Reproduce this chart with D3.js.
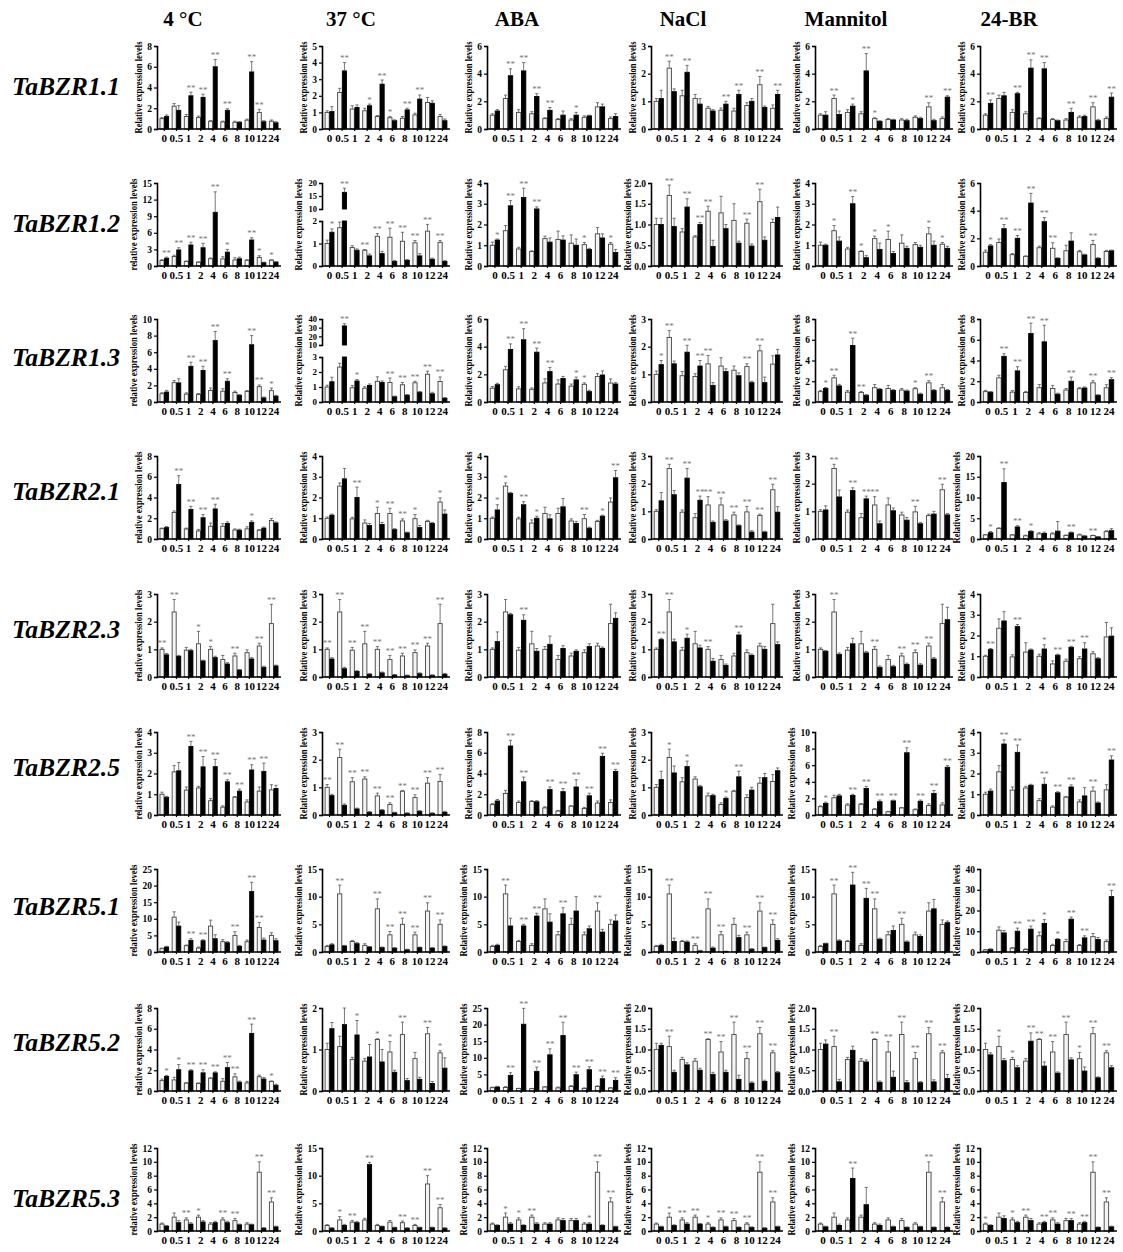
<!DOCTYPE html>
<html>
<head>
<meta charset="utf-8">
<script src="https://cdn.jsdelivr.net/npm/d3@7"></script>
<style>
  body { margin: 0; background: #fff; }
  svg { display: block; }
</style>
</head>
<body>
<svg id="fig" width="1123" height="1252"></svg>
<script>
// time points (h) and treatments
const times = ["0", "0.5", "1", "2", "4", "6", "8", "10", "12", "24"];
const treatments = ["4 °C", "37 °C", "ABA", "NaCl", "Mannitol", "24-BR"];
const geneNames = ["TaBZR1.1", "TaBZR1.2", "TaBZR1.3", "TaBZR2.1", "TaBZR2.3", "TaBZR2.5", "TaBZR5.1", "TaBZR5.2", "TaBZR5.3"];
const yTitles = ["Relative expression levels", "relative expression levels"];

// ---- TaBZR1.1
const bzr11Ctrl = [1.0, 2.2, 1.2, 1.1, 0.75, 0.68, 0.65, 0.85, 1.6, 0.75];
const bzr11CtrlErr = [0.1, 0.25, 0.2, 0.15, 0.06, 0.08, 0.1, 0.1, 0.3, 0.12];
const bzr11Val = [
  [1.2, 1.8, 3.2, 3.05, 6.0, 1.8, 0.65, 5.5, 0.7, 0.6],
  [1.05, 3.5, 1.3, 1.4, 2.7, 0.5, 1.15, 1.8, 1.55, 0.5],
  [1.3, 3.85, 4.2, 2.35, 1.35, 1.0, 1.0, 0.95, 1.6, 0.9],
  [1.1, 1.35, 2.05, 0.9, 0.65, 0.9, 1.25, 1.0, 0.78, 1.25],
  [1.0, 1.05, 1.65, 4.2, 0.55, 0.65, 0.6, 0.75, 0.6, 2.3],
  [1.85, 2.4, 2.55, 4.4, 4.35, 0.6, 1.2, 0.9, 0.6, 2.3]];
const bzr11Err = [
  [0.15, 0.45, 0.35, 0.3, 0.7, 0.15, 0.05, 1.0, 0.1, 0.1],
  [0.3, 0.5, 0.15, 0.1, 0.25, 0.05, 0.1, 0.25, 0.15, 0.1],
  [0.1, 0.5, 0.6, 0.2, 0.2, 0.3, 0.2, 0.05, 0.2, 0.2],
  [0.3, 0.1, 0.25, 0.2, 0.05, 0.1, 0.15, 0.1, 0.05, 0.15],
  [0.25, 0.25, 0.15, 1.25, 0.05, 0.05, 0.1, 0.1, 0.1, 0.1],
  [0.25, 0.25, 0.1, 0.6, 0.45, 0.05, 0.3, 0.1, 0.1, 0.3]];
const bzr11Sig = [
  [0, 0, 2, 2, 2, 2, 0, 2, 2, 0],
  [0, 2, 0, 1, 2, 1, 2, 2, 0, 0],
  [0, 2, 2, 2, 2, 0, 1, 0, 0, 0],
  [0, 2, 2, 0, 0, 2, 2, 0, 2, 2],
  [0, 2, 1, 2, 1, 0, 0, 0, 2, 2],
  [2, 0, 2, 2, 2, 0, 2, 0, 2, 2]];
const bzr11Max = [8, 5, 6, 3, 6, 6];
const bzr11Step = [2, 1, 2, 1, 2, 2];

// ---- TaBZR1.2
const bzr12Ctrl = [1.0, 1.7, 0.82, 0.7, 1.32, 1.28, 1.1, 1.03, 1.55, 1.05];
const bzr12CtrlErr = [0.15, 0.25, 0.08, 0.03, 0.12, 0.4, 0.4, 0.1, 0.3, 0.08];
const bzr12Val = [
  [1.4, 2.9, 3.8, 3.3, 9.7, 2.5, 1.3, 4.7, 0.6, 0.7],
  [1.5, 16.4, 0.7, 0.45, 0.55, 0.2, 0.25, 0.45, 0.3, 0.2],
  [1.25, 2.9, 3.3, 2.75, 1.15, 1.25, 1.0, 0.8, 1.35, 0.65],
  [1.0, 0.95, 1.42, 1.0, 0.47, 0.9, 0.55, 0.48, 0.62, 1.17],
  [1.0, 1.2, 3.0, 0.4, 0.8, 0.6, 0.85, 0.9, 1.0, 0.85],
  [1.45, 2.7, 2.0, 4.55, 3.2, 0.55, 1.8, 0.8, 0.55, 1.1]];
const bzr12Err = [
  [0.2, 0.4, 0.5, 0.8, 3.7, 0.5, 0.3, 0.4, 0.1, 0.1],
  [0.15, 1.6, 0.06, 0.08, 0.1, 0.05, 0.04, 0.1, 0.05, 0.05],
  [0.05, 0.25, 0.45, 0.1, 0.2, 0.2, 0.3, 0.05, 0.2, 0.15],
  [0.15, 0.2, 0.2, 0.05, 0.15, 0.1, 0.05, 0.05, 0.08, 0.25],
  [0.05, 0.2, 0.35, 0.1, 0.3, 0.1, 0.1, 0.1, 0.2, 0.1],
  [0.1, 0.3, 0.2, 0.7, 0.3, 0.05, 0.6, 0.05, 0.05, 0.05]];
const bzr12Sig = [
  [2, 2, 2, 2, 2, 1, 0, 2, 1, 1],
  [1, 2, 0, 2, 2, 2, 2, 2, 2, 2],
  [1, 2, 2, 2, 0, 0, 0, 1, 0, 1],
  [0, 2, 2, 2, 2, 0, 0, 2, 2, 0],
  [0, 1, 2, 1, 1, 1, 0, 0, 1, 1],
  [1, 2, 2, 2, 2, 2, 0, 0, 2, 0]];
const bzr12Max = [15, 20, 4, 2, 4, 6];
const bzr12Step = [3, 5, 1, 0.5, 1, 2];

// ---- TaBZR1.3
const bzr13Ctrl = [1.0, 2.33, 0.95, 0.92, 1.38, 1.3, 1.15, 1.28, 1.85, 1.37];
const bzr13CtrlErr = [0.12, 0.25, 0.15, 0.1, 0.3, 0.3, 0.15, 0.1, 0.2, 0.3];
const bzr13Val = [
  [1.2, 2.3, 4.3, 3.8, 7.4, 2.5, 0.8, 6.9, 0.5, 0.7],
  [1.35, 32, 1.4, 1.1, 1.3, 0.35, 0.45, 0.65, 0.55, 0.25],
  [1.25, 3.8, 4.5, 3.6, 2.2, 1.7, 1.6, 0.75, 1.95, 1.3],
  [1.35, 1.38, 1.8, 1.3, 0.6, 1.1, 0.95, 0.7, 0.7, 1.7],
  [1.3, 1.55, 5.45, 0.65, 1.2, 1.1, 1.05, 0.75, 1.1, 1.1],
  [0.95, 4.4, 3.0, 6.6, 5.8, 0.75, 2.0, 1.35, 0.65, 2.15]];
const bzr13Err = [
  [0.2, 0.5, 0.5, 0.5, 1.1, 0.3, 0.1, 1.1, 0.1, 0.1],
  [0.3, 2.5, 0.1, 0.1, 0.1, 0.05, 0.05, 0.05, 0.1, 0.05],
  [0.1, 0.4, 0.8, 0.3, 0.3, 0.15, 0.2, 0.1, 0.3, 0.1],
  [0.15, 0.1, 0.25, 0.2, 0.1, 0.1, 0.1, 0.05, 0.2, 0.2],
  [0.1, 0.15, 0.7, 0.05, 0.1, 0.1, 0.1, 0.1, 0.1, 0.1],
  [0.05, 0.25, 0.4, 1.0, 1.6, 0.1, 0.4, 0.1, 0.05, 0.2]];
const bzr13Sig = [
  [0, 0, 2, 2, 2, 2, 0, 2, 2, 1],
  [0, 2, 1, 0, 0, 2, 2, 2, 2, 2],
  [0, 2, 2, 2, 2, 0, 1, 1, 0, 0],
  [1, 2, 2, 2, 2, 0, 0, 2, 2, 0],
  [1, 2, 2, 2, 0, 0, 0, 1, 2, 0],
  [0, 2, 2, 2, 2, 0, 2, 0, 2, 2]];
const bzr13Max = [10, 40, 6, 3, 8, 8];
const bzr13Step = [2, 10, 2, 1, 2, 2];

// ---- TaBZR2.1
const bzr21Ctrl = [1.0, 2.55, 0.97, 0.77, 1.23, 1.23, 0.87, 0.98, 0.85, 1.78];
const bzr21CtrlErr = [0.06, 0.15, 0.08, 0.15, 0.3, 0.25, 0.1, 0.2, 0.05, 0.2];
const bzr21Val = [
  [1.1, 5.25, 2.85, 2.05, 2.9, 1.5, 0.85, 1.6, 1.05, 1.55],
  [1.15, 2.9, 2.0, 0.65, 0.7, 0.45, 0.3, 0.55, 0.75, 1.2],
  [1.4, 2.2, 1.65, 1.0, 0.97, 1.55, 0.75, 0.52, 1.1, 2.95],
  [1.38, 1.6, 2.2, 1.4, 0.6, 0.65, 0.48, 0.25, 0.25, 0.97],
  [1.05, 1.52, 1.75, 1.45, 0.55, 1.02, 0.68, 0.55, 0.9, 0.87],
  [1.5, 13.6, 2.9, 1.8, 1.35, 1.9, 1.5, 0.7, 0.5, 2.0]];
const bzr21Err = [
  [0.1, 0.85, 0.3, 0.3, 0.45, 0.15, 0.1, 0.15, 0.1, 0.1],
  [0.05, 0.5, 0.5, 0.1, 0.1, 0.05, 0.03, 0.1, 0.05, 0.2],
  [0.25, 0.05, 0.15, 0.1, 0.2, 0.4, 0.1, 0.05, 0.05, 0.35],
  [0.3, 0.15, 0.35, 0.15, 0.05, 0.05, 0.03, 0.05, 0.03, 0.2],
  [0.15, 0.25, 0.1, 0.1, 0.1, 0.1, 0.1, 0.05, 0.1, 0.05],
  [0.3, 3.3, 0.3, 0.2, 0.3, 2.3, 0.2, 0.1, 0.05, 0.5]];
const bzr21Sig = [
  [0, 2, 2, 2, 2, 0, 0, 1, 0, 0],
  [0, 0, 2, 0, 1, 2, 2, 1, 0, 1],
  [1, 1, 2, 1, 0, 0, 0, 2, 1, 2],
  [0, 2, 2, 2, 2, 2, 2, 2, 2, 2],
  [0, 2, 2, 2, 2, 0, 0, 2, 0, 2],
  [1, 2, 2, 1, 0, 0, 2, 0, 2, 0]];
const bzr21Max = [8, 4, 4, 3, 3, 20];
const bzr21Step = [2, 1, 1, 1, 1, 5];

// ---- TaBZR2.3
const bzr23Ctrl = [1.0, 2.35, 0.97, 1.2, 1.0, 0.63, 0.76, 0.88, 1.12, 1.93];
const bzr23CtrlErr = [0.05, 0.45, 0.1, 0.45, 0.1, 0.15, 0.1, 0.1, 0.1, 0.7];
const bzr23Val = [
  [0.8, 0.75, 0.95, 0.58, 0.7, 0.47, 0.25, 0.65, 0.35, 0.4],
  [0.65, 0.3, 0.2, 0.1, 0.15, 0.07, 0.05, 0.12, 0.06, 0.1],
  [1.28, 2.25, 2.05, 0.93, 1.18, 1.03, 0.93, 1.1, 1.03, 2.12],
  [1.35, 1.27, 1.4, 1.05, 0.57, 0.42, 1.52, 0.78, 1.0, 1.17],
  [0.93, 0.82, 1.2, 0.87, 0.35, 0.37, 0.45, 0.43, 0.65, 2.07],
  [1.32, 2.7, 2.43, 1.3, 1.35, 1.05, 1.43, 1.35, 0.88, 1.97]];
const bzr23Err = [
  [0.05, 0.03, 0.05, 0.03, 0.05, 0.05, 0.02, 0.05, 0.04, 0.03],
  [0.05, 0.05, 0.03, 0.02, 0.03, 0.02, 0.02, 0.03, 0.02, 0.03],
  [0.35, 0.05, 0.2, 0.1, 0.3, 0.1, 0.05, 0.1, 0.05, 0.2],
  [0.05, 0.1, 0.15, 0.1, 0.1, 0.05, 0.1, 0.05, 0.1, 0.1],
  [0.03, 0.05, 0.2, 0.05, 0.05, 0.05, 0.05, 0.05, 0.05, 0.45],
  [0.05, 0.45, 0.1, 0.05, 0.2, 0.05, 0.05, 0.3, 0.05, 0.4]];
const bzr23Sig = [
  [2, 2, 0, 1, 1, 0, 2, 0, 2, 2],
  [2, 2, 2, 2, 2, 2, 2, 2, 2, 2],
  [0, 0, 2, 0, 0, 0, 0, 0, 0, 0],
  [2, 2, 1, 0, 2, 0, 2, 0, 0, 0],
  [0, 2, 0, 0, 2, 0, 2, 2, 2, 0],
  [2, 0, 2, 0, 1, 2, 2, 2, 0, 0]];
const bzr23Max = [3, 3, 3, 3, 3, 4];
const bzr23Step = [1, 1, 1, 1, 1, 1];

// ---- TaBZR2.5
const bzr25Ctrl = [1.0, 2.08, 1.2, 1.3, 0.69, 0.38, 0.86, 0.63, 1.15, 1.21];
const bzr25CtrlErr = [0.1, 0.3, 0.15, 0.08, 0.1, 0.06, 0.03, 0.1, 0.2, 0.25];
const bzr25Val = [
  [0.85, 2.13, 3.3, 2.32, 2.33, 1.6, 1.15, 2.17, 2.1, 1.28],
  [0.7, 0.35, 0.22, 0.1, 0.17, 0.08, 0.06, 0.13, 0.06, 0.1],
  [1.35, 6.65, 3.2, 1.28, 2.45, 2.25, 2.7, 1.85, 5.65, 4.2],
  [1.28, 1.52, 1.75, 1.02, 0.7, 0.6, 1.38, 0.9, 1.35, 1.6],
  [1.4, 2.3, 2.35, 3.2, 1.6, 1.7, 7.5, 1.65, 2.6, 5.75],
  [1.15, 3.42, 3.02, 1.43, 1.48, 1.07, 1.35, 0.92, 0.58, 2.65]];
const bzr25Err = [
  [0.05, 0.4, 0.25, 0.5, 0.35, 0.1, 0.1, 0.25, 0.4, 0.15],
  [0.05, 0.05, 0.03, 0.02, 0.03, 0.02, 0.02, 0.03, 0.02, 0.03],
  [0.15, 0.55, 0.45, 0.1, 0.25, 0.3, 0.7, 0.25, 0.3, 0.2],
  [0.3, 0.25, 0.2, 0.05, 0.05, 0.05, 0.2, 0.1, 0.15, 0.1],
  [0.15, 0.2, 0.15, 0.25, 0.2, 0.1, 0.6, 0.15, 0.35, 0.2],
  [0.1, 0.2, 0.35, 0.05, 0.3, 0.05, 0.1, 0.4, 0.05, 0.2]];
const bzr25Sig = [
  [0, 0, 2, 2, 2, 2, 2, 2, 2, 0],
  [2, 2, 2, 2, 2, 2, 2, 2, 2, 2],
  [0, 2, 2, 0, 2, 2, 2, 2, 2, 2],
  [0, 1, 1, 0, 0, 1, 2, 0, 0, 0],
  [1, 0, 2, 2, 2, 2, 2, 2, 2, 2],
  [0, 2, 2, 0, 2, 2, 2, 0, 2, 2]];
const bzr25Max = [4, 3, 8, 3, 10, 4];
const bzr25Step = [1, 1, 2, 1, 2, 1];

// ---- TaBZR5.1
const bzr51Ctrl = [1.0, 10.5, 1.9, 1.2, 7.8, 3.1, 5.0, 3.1, 7.4, 5.0];
const bzr51CtrlErr = [0.2, 1.6, 0.2, 0.3, 1.8, 0.6, 1.1, 0.5, 1.5, 0.8];
const bzr51Val = [
  [1.5, 7.8, 3.5, 3.4, 4.0, 2.8, 1.7, 18.2, 3.6, 3.4],
  [1.3, 1.1, 1.5, 0.9, 0.8, 0.7, 0.4, 0.8, 0.7, 1.0],
  [1.2, 4.7, 4.7, 6.5, 5.4, 6.9, 7.4, 4.2, 3.6, 5.6],
  [1.2, 1.9, 1.8, 0.2, 0.7, 0.1, 2.6, 0.5, 0.8, 2.1],
  [1.5, 2.0, 12.1, 9.7, 2.3, 3.9, 1.8, 2.8, 7.8, 5.3],
  [1.3, 9.2, 10.0, 11.0, 13.8, 6.0, 15.8, 6.8, 6.0, 26.7]];
const bzr51Err = [
  [0.2, 1.2, 0.5, 0.3, 1.2, 0.3, 0.3, 2.8, 0.6, 0.6],
  [0.2, 0.1, 0.2, 0.1, 0.1, 0.1, 0.1, 0.1, 0.1, 0.1],
  [0.2, 1.4, 0.3, 0.5, 1.5, 1.1, 2.6, 0.5, 0.5, 1.1],
  [0.2, 0.6, 0.2, 0.1, 0.2, 0.05, 0.4, 0.1, 0.1, 0.3],
  [0.1, 0.2, 2.3, 1.8, 0.2, 0.8, 0.2, 0.3, 1.7, 0.3],
  [0.2, 1.2, 1.5, 1.5, 1.8, 0.5, 1.0, 1.0, 1.0, 3.0]];
const bzr51Sig = [
  [0, 0, 2, 2, 0, 0, 2, 2, 2, 0],
  [0, 2, 0, 0, 2, 2, 2, 2, 2, 2],
  [0, 2, 2, 2, 0, 2, 0, 0, 2, 0],
  [0, 2, 0, 2, 2, 2, 0, 2, 2, 2],
  [0, 2, 2, 2, 2, 0, 2, 0, 0, 0],
  [0, 0, 2, 2, 1, 1, 2, 2, 0, 2]];
const bzr51Max = [25, 15, 15, 15, 15, 40];
const bzr51Step = [5, 5, 5, 5, 5, 10];

// ---- TaBZR5.2
const bzr52Ctrl = [1.0, 1.07, 0.76, 0.72, 1.24, 0.94, 1.36, 0.78, 1.38, 0.92];
const bzr52CtrlErr = [0.15, 0.25, 0.05, 0.06, 0.02, 0.25, 0.3, 0.15, 0.15, 0.05];
const bzr52Val = [
  [1.4, 2.05, 1.95, 1.75, 1.75, 2.25, 0.85, 5.55, 1.15, 0.55],
  [1.5, 1.6, 1.35, 0.82, 0.7, 0.45, 0.25, 0.28, 0.18, 0.55],
  [1.2, 4.7, 20.1, 5.9, 10.9, 16.7, 4.9, 6.4, 3.7, 3.2],
  [1.1, 0.45, 0.63, 0.5, 0.4, 0.45, 0.28, 0.19, 0.23, 0.44],
  [1.13, 0.22, 0.98, 0.7, 0.21, 0.33, 0.2, 0.2, 0.22, 0.3],
  [0.87, 0.73, 0.56, 1.2, 0.6, 0.43, 0.75, 0.48, 0.32, 0.56]];
const bzr52Err = [
  [0.1, 0.5, 0.1, 0.3, 0.1, 0.5, 0.1, 0.9, 0.15, 0.1],
  [0.15, 0.4, 0.35, 0.3, 0.3, 0.05, 0.05, 0.05, 0.05, 0.25],
  [0.2, 0.8, 4.8, 1.3, 1.8, 4.0, 0.8, 0.9, 0.8, 0.8],
  [0.05, 0.05, 0.05, 0.05, 0.05, 0.05, 0.1, 0.03, 0.03, 0.03],
  [0.1, 0.06, 0.1, 0.05, 0.03, 0.15, 0.05, 0.03, 0.05, 0.1],
  [0.05, 0.05, 0.05, 0.2, 0.1, 0.03, 0.05, 0.1, 0.02, 0.05]];
const bzr52Sig = [
  [1, 1, 2, 2, 2, 2, 2, 2, 0, 1],
  [0, 0, 1, 0, 1, 1, 2, 0, 2, 1],
  [0, 2, 2, 2, 2, 2, 2, 2, 2, 2],
  [0, 2, 0, 0, 2, 2, 2, 2, 2, 2],
  [0, 2, 0, 0, 2, 2, 2, 2, 2, 2],
  [0, 1, 1, 2, 2, 2, 2, 1, 2, 2]];
const bzr52Max = [8, 2, 25, 2, 2, 2];
const bzr52Step = [2, 1, 5, 0.5, 0.5, 0.5];

// ---- TaBZR5.3
const bzr53Ctrl = [1.0, 2.0, 1.6, 2.0, 1.0, 1.6, 1.5, 1.0, 8.5, 4.2];
const bzr53CtrlErr = [0.15, 0.6, 0.3, 0.3, 0.2, 0.3, 0.3, 0.2, 1.5, 0.6];
const bzr53Val = [
  [0.7, 1.2, 1.0, 1.3, 1.2, 1.2, 0.9, 0.9, 0.4, 0.6],
  [0.5, 1.0, 1.5, 12.0, 0.8, 0.6, 0.5, 0.6, 0.6, 0.5],
  [0.8, 1.0, 0.8, 1.0, 1.0, 1.5, 1.5, 1.0, 0.8, 0.6],
  [0.6, 0.8, 1.0, 1.0, 0.5, 0.6, 0.5, 0.5, 0.4, 0.6],
  [0.6, 0.8, 7.6, 3.8, 0.8, 0.6, 0.5, 0.6, 0.5, 0.5],
  [0.8, 1.8, 1.2, 1.5, 1.2, 1.0, 1.5, 1.2, 0.5, 0.6]];
const bzr53Err = [
  [0.1, 0.3, 0.2, 0.2, 0.2, 0.2, 0.1, 0.1, 0.1, 0.1],
  [0.1, 0.2, 0.2, 0.4, 0.1, 0.1, 0.1, 0.1, 0.1, 0.1],
  [0.1, 0.2, 0.1, 0.2, 0.2, 0.3, 0.3, 0.2, 0.1, 0.1],
  [0.1, 0.1, 0.2, 0.1, 0.1, 0.1, 0.1, 0.1, 0.1, 0.1],
  [0.1, 0.2, 1.5, 2.5, 0.2, 0.1, 0.1, 0.1, 0.1, 0.1],
  [0.1, 0.4, 0.2, 0.3, 0.2, 0.2, 0.3, 0.2, 0.1, 0.1]];
const bzr53Sig = [
  [0, 0, 2, 1, 0, 2, 2, 0, 2, 2],
  [0, 1, 2, 2, 0, 0, 2, 2, 2, 2],
  [0, 1, 1, 2, 0, 0, 0, 1, 2, 2],
  [0, 1, 2, 2, 1, 2, 2, 2, 2, 2],
  [0, 0, 2, 0, 0, 0, 0, 0, 2, 2],
  [1, 0, 1, 2, 2, 2, 2, 2, 2, 2]];
const bzr53Max = [12, 15, 12, 12, 12, 12];
const bzr53Step = [2, 5, 2, 2, 2, 2];

// broken y axes (37 °C column): lower part and upper part
const brokenAxes = {
  "1-1": { low: 2, lowStep: 1, high: [10, 20], highStep: 5 },
  "2-1": { low: 3, lowStep: 1, high: [10, 40], highStep: 10 }
};

const genes = [
  [bzr11Ctrl, bzr11CtrlErr, bzr11Val, bzr11Err, bzr11Sig, bzr11Max, bzr11Step],
  [bzr12Ctrl, bzr12CtrlErr, bzr12Val, bzr12Err, bzr12Sig, bzr12Max, bzr12Step],
  [bzr13Ctrl, bzr13CtrlErr, bzr13Val, bzr13Err, bzr13Sig, bzr13Max, bzr13Step],
  [bzr21Ctrl, bzr21CtrlErr, bzr21Val, bzr21Err, bzr21Sig, bzr21Max, bzr21Step],
  [bzr23Ctrl, bzr23CtrlErr, bzr23Val, bzr23Err, bzr23Sig, bzr23Max, bzr23Step],
  [bzr25Ctrl, bzr25CtrlErr, bzr25Val, bzr25Err, bzr25Sig, bzr25Max, bzr25Step],
  [bzr51Ctrl, bzr51CtrlErr, bzr51Val, bzr51Err, bzr51Sig, bzr51Max, bzr51Step],
  [bzr52Ctrl, bzr52CtrlErr, bzr52Val, bzr52Err, bzr52Sig, bzr52Max, bzr52Step],
  [bzr53Ctrl, bzr53CtrlErr, bzr53Val, bzr53Err, bzr53Sig, bzr53Max, bzr53Step]
].map((d, i) => ({
  name: geneNames[i], ctrl: d[0], ctrlErr: d[1], val: d[2], err: d[3], sig: d[4], max: d[5], step: d[6]
}));

// ---- layout
const serif = "'Liberation Serif', 'Times New Roman', serif";
const colX = [157, 322, 487, 651, 815, 980];
const colW = [124, 128, 134, 132, 138, 137];
const headX = [183, 351, 517, 683, 846, 1009];
const rowTop = [46, 183, 319, 456, 594, 732, 869, 1008, 1148];
const labelY = [95, 232, 366, 500, 638, 776, 915, 1051, 1207];
const plotH = 83;

const svg = d3.select("#fig");

// column headers
svg.selectAll("text.head")
  .data(treatments)
  .join("text")
  .attr("class", "head")
  .attr("x", (d, i) => headX[i])
  .attr("y", 26)
  .attr("text-anchor", "middle")
  .attr("font-family", serif)
  .attr("font-weight", "bold")
  .attr("font-size", 21)
  .text(d => d);

// gene labels
svg.selectAll("text.gene")
  .data(genes)
  .join("text")
  .attr("class", "gene")
  .attr("x", 12)
  .attr("y", (d, i) => labelY[i])
  .attr("font-family", serif)
  .attr("font-weight", "bold")
  .attr("font-style", "italic")
  .attr("font-size", 25)
  .attr("textLength", 108)
  .attr("lengthAdjust", "spacingAndGlyphs")
  .text(d => d.name);

function tickVals(max, step) {
  return d3.range(0, max + step / 2, step);
}

function styleAxis(g, size) {
  g.selectAll("path.domain").attr("stroke", "#000").attr("stroke-width", 1.6);
  g.selectAll(".tick line").attr("stroke", "#000").attr("stroke-width", 1.2);
  g.selectAll(".tick text")
    .attr("font-family", serif)
    .attr("font-weight", "bold")
    .attr("font-size", size)
    .attr("fill", "#000");
}

function drawPanel(g, gene, c, r) {
  const w = colW[c];
  const ctrl = gene.ctrl, ctrlErr = gene.ctrlErr;
  const val = gene.val[c], err = gene.err[c], sig = gene.sig[c];
  const brk = brokenAxes[r + "-" + c];

  const x = d3.scaleBand().domain(times).range([0, w]).paddingInner(0.2).paddingOuter(0.2);
  const xi = d3.scaleBand().domain(["ctrl", "treat"]).range([0, x.bandwidth()]).padding(0.12);

  // y mapping (normal or broken)
  let yMap, lowTop = 0;
  if (brk) {
    const upH = 26, gap = 12;
    const yLow = d3.scaleLinear().domain([0, brk.low]).range([plotH, upH + gap]);
    const yHigh = d3.scaleLinear().domain(brk.high).range([upH, 0]);
    lowTop = upH + gap;
    yMap = v => v <= brk.low ? yLow(v) : (v < brk.high[0] ? lowTop : yHigh(v));
    const a1 = g.append("g").call(d3.axisLeft(yLow).tickValues(tickVals(brk.low, brk.lowStep)).tickSize(3).tickPadding(2).tickFormat(d3.format("d")));
    styleAxis(a1, 9);
    const a2 = g.append("g").call(d3.axisLeft(yHigh).tickValues(d3.range(brk.high[0], brk.high[1] + 0.1, brk.highStep)).tickSize(3).tickPadding(2).tickFormat(d3.format("d")));
    styleAxis(a2, 8.5);
  } else {
    const y = d3.scaleLinear().domain([0, gene.max[c]]).range([plotH, 0]);
    yMap = y;
    const fmt = gene.step[c] < 1 ? d3.format(".1f") : d3.format("d");
    const a = g.append("g").call(d3.axisLeft(y).tickValues(tickVals(gene.max[c], gene.step[c])).tickSize(3).tickPadding(2).tickFormat(fmt));
    styleAxis(a, 9.5);
  }

  // y title
  const wide = gene.step[c] < 1 || gene.max[c] >= 10;
  g.append("text")
    .attr("transform", `translate(${wide ? -20 : -15},${plotH / 2}) rotate(-90)`)
    .attr("text-anchor", "middle")
    .attr("font-family", serif)
    .attr("font-weight", "bold")
    .attr("font-size", 9.5)
    .attr("textLength", 92)
    .attr("lengthAdjust", "spacingAndGlyphs")
    .text(c === 0 && r > 0 ? yTitles[1] : yTitles[0]);

  const rows = times.map((t, i) => ({ t, c: ctrl[i], ce: ctrlErr[i], v: val[i], e: err[i], s: sig[i] }));
  const bars = [];
  rows.forEach(d => {
    bars.push({ t: d.t, k: "ctrl", v: d.c, e: d.ce });
    bars.push({ t: d.t, k: "treat", v: d.v, e: d.e });
  });

  // bars (broken: split into lower and upper parts)
  const segs = [];
  bars.forEach(b => {
    if (brk && b.v > brk.low) {
      segs.push({ ...b, y0: plotH, y1: lowTop });
      segs.push({ ...b, y0: yMap(brk.high[0]), y1: yMap(b.v) });
    } else {
      segs.push({ ...b, y0: plotH, y1: yMap(b.v) });
    }
  });
  g.append("g").selectAll("rect")
    .data(segs)
    .join("rect")
    .attr("x", d => x(d.t) + xi(d.k))
    .attr("width", xi.bandwidth())
    .attr("y", d => d.y1)
    .attr("height", d => Math.max(0, d.y0 - d.y1))
    .attr("fill", d => d.k === "ctrl" ? "#f4f4f4" : "#000")
    .attr("stroke", d => d.k === "ctrl" ? "#444" : "#000")
    .attr("stroke-width", 0.9);

  // error bars
  const eg = g.append("g").attr("stroke", "#555").attr("stroke-width", 0.8);
  bars.forEach(b => {
    const cx = x(b.t) + xi(b.k) + xi.bandwidth() / 2;
    const yTop = yMap(b.v + b.e), yV = yMap(b.v);
    eg.append("line").attr("x1", cx).attr("x2", cx).attr("y1", yV).attr("y2", yTop);
    eg.append("line").attr("x1", cx - 1.6).attr("x2", cx + 1.6).attr("y1", yTop).attr("y2", yTop);
  });

  // significance marks
  g.append("g").selectAll("text")
    .data(rows.filter(d => d.s > 0))
    .join("text")
    .attr("x", d => {
      const k = d.v + d.e >= d.c + d.ce ? "treat" : "ctrl";
      return x(d.t) + xi(k) + xi.bandwidth() / 2;
    })
    .attr("y", d => yMap(Math.max(d.v + d.e, d.c + d.ce)) - 1.5)
    .attr("text-anchor", "middle")
    .attr("font-family", serif)
    .attr("font-size", 9)
    .attr("fill", "#777")
    .text(d => d.s === 2 ? "**" : "*");

  // x axis
  const ax = g.append("g")
    .attr("transform", `translate(0,${plotH})`)
    .call(d3.axisBottom(x).tickSize(2).tickPadding(3));
  ax.select("path.domain").attr("d", `M0,0H${w}`);
  styleAxis(ax, 11);
}

genes.forEach((gene, r) => {
  treatments.forEach((t, c) => {
    const g = svg.append("g").attr("transform", `translate(${colX[c]},${rowTop[r]})`);
    drawPanel(g, gene, c, r);
  });
});
</script>
</body>
</html>
